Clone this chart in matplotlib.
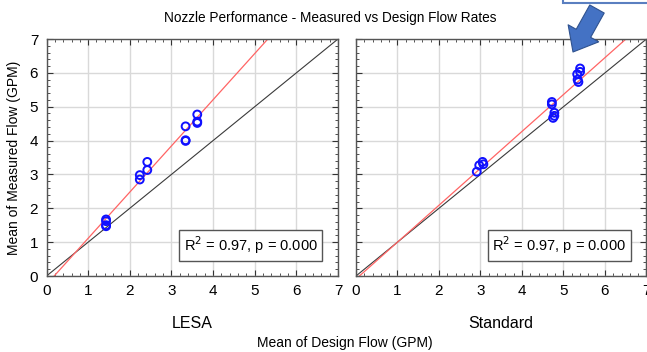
import numpy as np
import matplotlib.pyplot as plt
import matplotlib.patches as mpatches
from matplotlib.ticker import MultipleLocator

plt.rcParams["font.family"] = ["Liberation Sans", "DejaVu Sans"]

# Mean design flow vs mean measured flow (GPM), one list per nozzle type
LESA_DESIGN = [1.43, 1.43, 1.43, 1.43, 2.24, 2.24, 2.42, 2.42,
               3.34, 3.34, 3.34, 3.62, 3.62, 3.62]
LESA_MEASURED = [1.67, 1.62, 1.50, 1.47, 2.98, 2.85, 3.37, 3.13,
                 4.42, 4.01, 3.99, 4.77, 4.56, 4.52]

STD_DESIGN = [2.91, 2.97, 3.05, 3.07, 4.72, 4.72, 4.78, 4.75, 4.78,
              5.40, 5.40, 5.33, 5.34, 5.36]
STD_MEASURED = [3.08, 3.27, 3.37, 3.30, 5.14, 5.07, 4.82, 4.67, 4.73,
                6.13, 6.03, 5.96, 5.80, 5.73]

# Fitted regression lines (slope, intercept)
LESA_FIT = (1.364, -0.25)
STD_FIT = (1.09, -0.09)

PANEL_NAMES = ["LESA", "Standard"]
R2_TEXT = ["R$^2$ = 0.97, p = 0.000", "R$^2$ = 0.97, p = 0.000"]
TICKS = [0, 1, 2, 3, 4, 5, 6, 7]

fig = plt.figure(figsize=(6.47, 3.52), dpi=100)
ax_l = fig.add_axes([0.0719, 0.2159, 0.4505, 0.6733])
ax_r = fig.add_axes([0.5502, 0.2159, 0.4490, 0.6733])

panels = [
    (ax_l, LESA_DESIGN, LESA_MEASURED, LESA_FIT),
    (ax_r, STD_DESIGN, STD_MEASURED, STD_FIT),
]

for i, (ax, xs, ys, fit) in enumerate(panels):
    line_x = np.array([0, 7])
    ax.plot(line_x, line_x, color="#3a3a3a", lw=0.8, zorder=2)
    ax.plot(line_x, fit[0] * line_x + fit[1], color="#ff6464", lw=0.9, zorder=2)
    ax.scatter(xs, ys, s=32, facecolors="none", edgecolors="#1010ff",
               linewidths=1.4, zorder=3)

    ax.set_xlim(0, 7)
    ax.set_ylim(0, 7)
    ax.set_xticks(TICKS)
    ax.set_yticks(TICKS)
    ax.xaxis.set_minor_locator(MultipleLocator(0.2))
    ax.yaxis.set_minor_locator(MultipleLocator(0.2))
    ax.grid(True, which="major", color="#d9d9d9", lw=1.0, zorder=0)
    ax.set_axisbelow(True)
    ax.tick_params(which="both", direction="in", top=True, right=True,
                   labelsize=11, colors="#333333", labelcolor="black")
    ax.tick_params(which="major", length=4, width=0.8, pad=6)
    ax.tick_params(which="minor", length=2, width=0.6)
    for sp in ax.spines.values():
        sp.set_color("#555555")
        sp.set_linewidth(1.0)

    ax.text(4.9, 0.9, R2_TEXT[i], fontsize=10.5, ha="center", va="center",
            bbox=dict(boxstyle="square,pad=0.3", fc="white", ec="#555555",
                      lw=1.0), zorder=4)
    ax.set_xlabel(PANEL_NAMES[i], fontsize=11.5, labelpad=13)

ax_r.tick_params(labelleft=False)

ax_l.set_ylabel("Mean of Measured Flow (GPM)", fontsize=10, labelpad=6)
fig.text(0.533, 0.026, "Mean of Design Flow (GPM)", fontsize=10,
         ha="center", va="center")
fig.text(0.51, 0.93, "Nozzle Performance - Measured vs Design Flow Rates",
         fontsize=9.8, ha="center", va="bottom")

# Callout box edge and arrow pointing at the upper Standard cluster
box = mpatches.Rectangle((5.63, 3.49), 0.9, 0.2, transform=fig.dpi_scale_trans,
                         fc="white", ec="#5a7fc0", lw=1.5)
fig.patches.append(box)
arrow = mpatches.FancyArrowPatch(
    (5.97, 3.43), (5.73, 3.00), transform=fig.dpi_scale_trans,
    arrowstyle="simple,head_width=1.8,head_length=1.1,tail_width=0.85",
    mutation_scale=14, shrinkA=0, shrinkB=0,
    fc="#4472c4", ec="#2f528f", lw=0.8)
fig.patches.append(arrow)

fig.savefig("out.png", dpi=100)
